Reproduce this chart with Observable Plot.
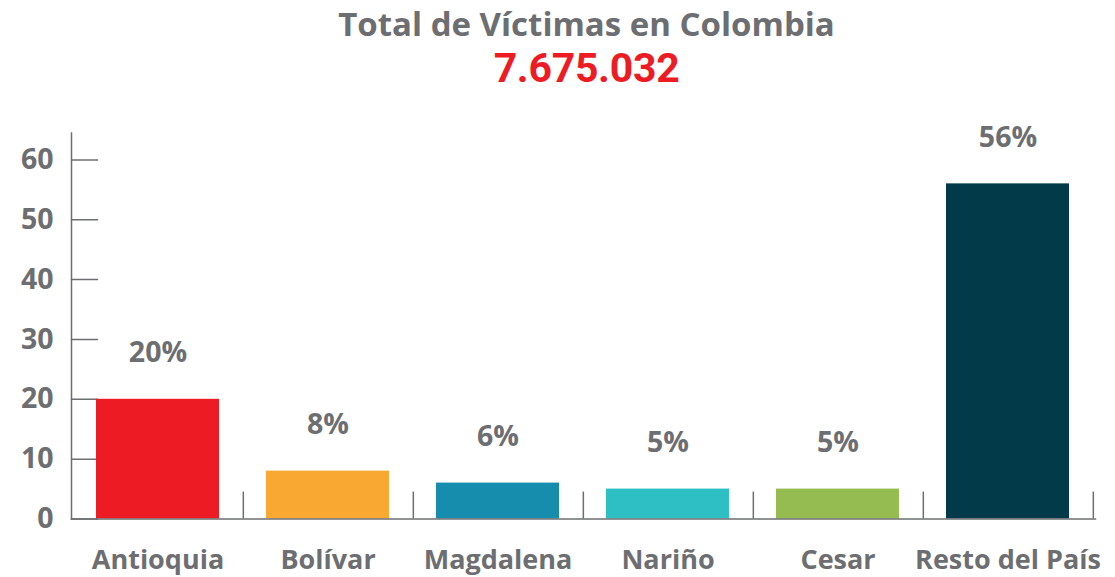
<!DOCTYPE html>
<html><head><meta charset="utf-8">
<script src="https://cdn.jsdelivr.net/npm/d3@7"></script>
<script src="https://cdn.jsdelivr.net/npm/@observablehq/plot@0.6"></script>
<style>
body{margin:0;background:#fff;font-family:"Open Sans",Roboto,sans-serif;}
#head{position:relative;width:1115px;height:90px;}
.t{position:absolute;left:58px;width:1057px;text-align:center;font-weight:700;line-height:1;white-space:nowrap;}
</style></head><body>
<div id="head">
  <div class="t" id="title" style="top:7px;font-size:33px;color:#6d6e71;font-family:'Open Sans',sans-serif"></div>
  <div class="t" id="total" style="top:48px;font-size:41px;color:#ed1c24;font-family:Roboto,sans-serif;letter-spacing:-0.3px"></div>
</div>
<div id="chart"></div>
<script>
const titleText = "Total de Víctimas en Colombia";
const totalText = "7.675.032";
const categories = ["Antioquia", "Bolívar", "Magdalena", "Nariño", "Cesar", "Resto del País"];
const values = [20, 8, 6, 5, 5, 56];
const pctLabels = ["20%", "8%", "6%", "5%", "5%", "56%"];
const colors = ["#ed1c24", "#f9a932", "#168dad", "#2ebfc4", "#94bc50", "#023a4a"];
const yTicks = [0, 10, 20, 30, 40, 50, 60];

document.getElementById("title").textContent = titleText;
document.getElementById("total").textContent = totalText;

const data = categories.map((c, i) => ({cat: c, value: values[i], label: pctLabels[i]}));
const gray = "#6d6e71";
const W = 1115, H = 487, ML = 71, MR = 20, MT = 42.5, MB = 58.5;
const halfStep = (W - ML - MR) / categories.length / 2;
const tickShape = {draw(context, l) { context.moveTo(0, 0); context.lineTo(0, -l); }};

const chart = Plot.plot({
  width: W, height: H,
  marginLeft: ML, marginRight: MR, marginTop: MT, marginBottom: MB,
  style: {fontFamily: "'Open Sans', Roboto, sans-serif", fontWeight: 700, color: gray, background: "#fff"},
  x: {domain: categories, paddingInner: 0.275, paddingOuter: 0.1375, label: null},
  y: {domain: [0, 64.5], label: null},
  color: {domain: categories, range: colors},
  marks: [
    Plot.vector(yTicks, {y: d => d, frameAnchor: "left", rotate: 90, length: 26, anchor: "start", shape: tickShape, stroke: gray, strokeWidth: 1.5}),
    Plot.barY(data, {x: "cat", y: "value", fill: "cat"}),
    Plot.ruleX(categories, {x: d => d, y1: 0, y2: 4.5, dx: halfStep, stroke: gray, strokeWidth: 1.5}),
    Plot.frame({anchor: "left", stroke: gray, strokeWidth: 1.5}),
    Plot.frame({anchor: "bottom", stroke: gray, strokeWidth: 1.5}),
    Plot.text(data, {x: "cat", y: "value", text: "label", dy: -46, fontSize: 28.5, fontWeight: 700, fill: gray}),
    Plot.axisY({ticks: yTicks, tickSize: 0, tickPadding: 18, fontSize: 28.5, fontWeight: 700, fill: gray, tickFormat: d => String(d)}),
    Plot.axisX({tickSize: 0, tickPadding: 31, fontSize: 27, fontWeight: 700, fill: gray})
  ]
});
document.getElementById("chart").appendChild(chart);
</script>
</body></html>
